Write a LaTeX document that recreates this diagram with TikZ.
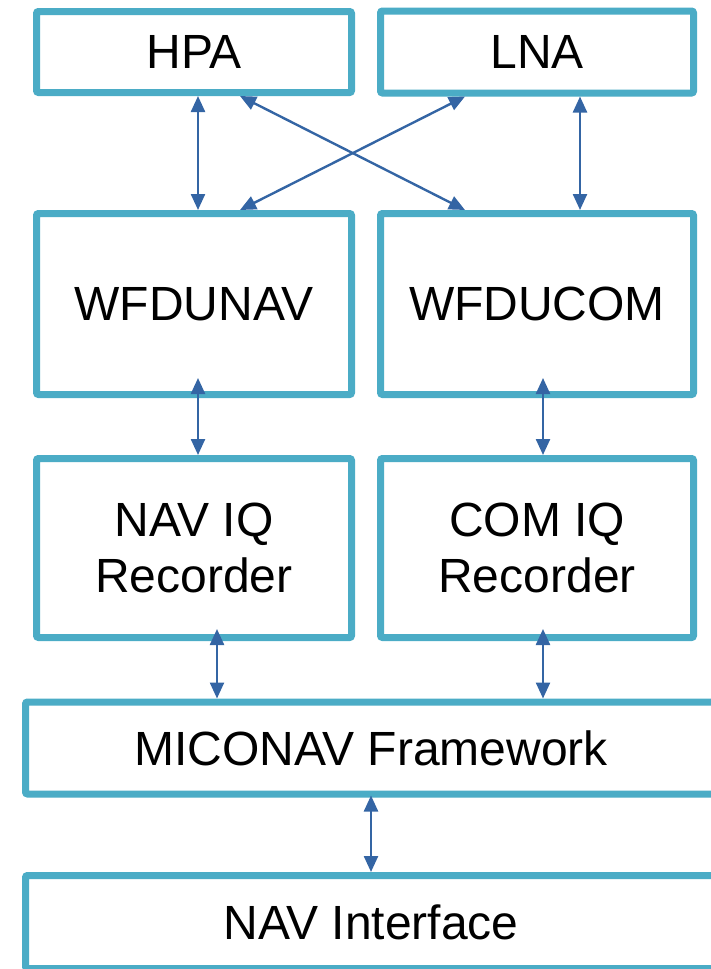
\documentclass[tikz,border=0pt]{standalone}
\usepackage{fontspec}
\setmainfont{Liberation Sans}
\usetikzlibrary{arrows.meta,shadows}
\definecolor{boxteal}{RGB}{75,172,198}
\definecolor{linkblue}{RGB}{52,101,164}
\begin{document}
\begin{tikzpicture}
  [x=1pt,y=-1pt,every node/.style={draw=boxteal,line width=7pt,fill=white,rounded corners=2pt,
   align=center,font=\fontsize{48}{56}\selectfont,
   drop shadow={shadow xshift=2pt,shadow yshift=-3pt,opacity=.3}}]
  \tikzstyle{link} = [draw=linkblue,line width=2.4pt,{Triangle[length=16pt,width=14pt]}-{Triangle[length=16pt,width=14pt]}]
  \useasboundingbox (0,0) rectangle (711,969);
  \node[minimum width=315pt,minimum height=81pt] (hpa) at (194,52) {HPA};
  \node[minimum width=313pt,minimum height=82pt] (lna) at (537,52) {LNA};
  \node[minimum width=315pt,minimum height=181pt] (wfdunav) at (194,304) {WFDUNAV};
  \node[minimum width=313pt,minimum height=181pt] (wfducom) at (537,304) {WFDUCOM};
  \node[minimum width=315pt,minimum height=179pt] (naviq) at (194,548) {NAV IQ\\Recorder};
  \node[minimum width=313pt,minimum height=179pt] (comiq) at (537,548) {COM IQ\\Recorder};
  \node[minimum width=691pt,minimum height=92pt] (micon) at (371,748) {MICONAV Framework};
  \node[minimum width=691pt,minimum height=93pt] (navif) at (371,922) {NAV Interface};

\foreach \source/\sx/\sy/\dest/\dx in {hpa/4/0/wfdunav/4,hpa/46/0/wfducom/-72,lna/-72/0/wfdunav/46,
  lna/43/0/wfducom/43,wfdunav/4/20/naviq/4,wfducom/6/20/comiq/6,naviq/23/12/micon/-154,
  comiq/6/12/micon/172,micon/0/2/navif/0}
   \draw[link] ([xshift=\sx pt,yshift=\sy pt]\source.south) -- ([xshift=\dx pt]\dest.north);

  \end{tikzpicture}
\end{document}
